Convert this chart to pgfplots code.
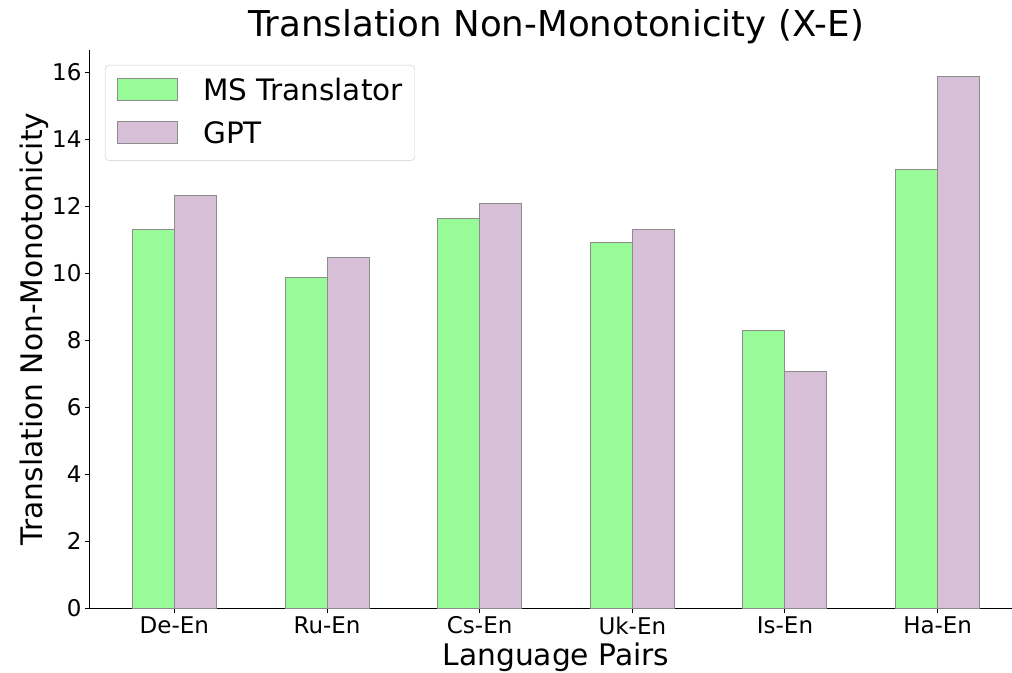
\documentclass[border=0pt]{standalone}
\usepackage{pgfplots}
\pgfplotsset{compat=1.18}
\usepackage{fontspec}
\setmainfont{DejaVu Sans}
\definecolor{msgreen}{HTML}{98FB98}
\definecolor{gptpurple}{HTML}{D8BFD8}
\definecolor{edgegray}{HTML}{8C8C8C}
\pgfplotsset{
  mylegend/.style={legend image code/.code={\draw[##1, sharp corners] (0pt,0pt) rectangle (60pt,22pt);}},
}
\begin{document}
\begin{tikzpicture}
\begin{axis}[
  scale only axis, width=932pt, height=558pt,
  xmin=-0.5525, xmax=5.5525, ymin=0, ymax=16.67,
  axis x line*=bottom, axis y line*=left,
  xtick={0,...,5}, xticklabels={De-En,Ru-En,Cs-En,Uk-En,Is-En,Ha-En},
  ytick={0,2,...,16},
  tick align=outside, major tick length=5pt,
  tick style={black, line width=1pt},
  axis line style={black, line width=1pt},
  ticklabel style={font=\fontsize{23}{27}\selectfont},
  /pgf/number format/assume math mode=true,
  xlabel={Language Pairs}, ylabel={Translation Non-Monotonicity},
  label style={font=\fontsize{29.7}{35}\selectfont},
  xlabel style={at={(axis description cs:0.5,{-58/558})}, anchor=base},
  ylabel style={at={(axis description cs:{-48/932},0.5)}, anchor=base},
  title={Translation Non-Monotonicity (X-E)},
  title style={font=\fontsize{35.6}{42}\selectfont, at={(axis description cs:0.5,{1+7/558})}, anchor=base},
  legend cell align=left,
  legend style={at={(axis description cs:{15/932},{543/558})}, anchor=north west,
    draw=black!20, rounded corners=4pt, font=\fontsize{29.5}{35}\selectfont,
    inner xsep=12pt, inner ysep=5pt, row sep=1.5pt, column sep=25pt,
    cells={anchor=base west},
    nodes={inner sep=0pt, text height=30pt, text depth=12pt}},
]
\addplot[ybar, bar width=42pt, bar shift=-21pt, fill=msgreen, draw=edgegray, line width=1pt, mylegend]
  coordinates {(0,11.31) (1,9.88) (2,11.64) (3,10.93) (4,8.30) (5,13.10)};
\addlegendentry{MS Translator}
\addplot[ybar, bar width=42pt, bar shift=21pt, fill=gptpurple, draw=edgegray, line width=1pt, mylegend]
  coordinates {(0,12.33) (1,10.48) (2,12.09) (3,11.31) (4,7.07) (5,15.87)};
\addlegendentry{GPT}
\end{axis}
\pgfresetboundingbox
\useasboundingbox (-90pt,-64pt) rectangle (922pt,608pt);
\end{tikzpicture}
\end{document}
